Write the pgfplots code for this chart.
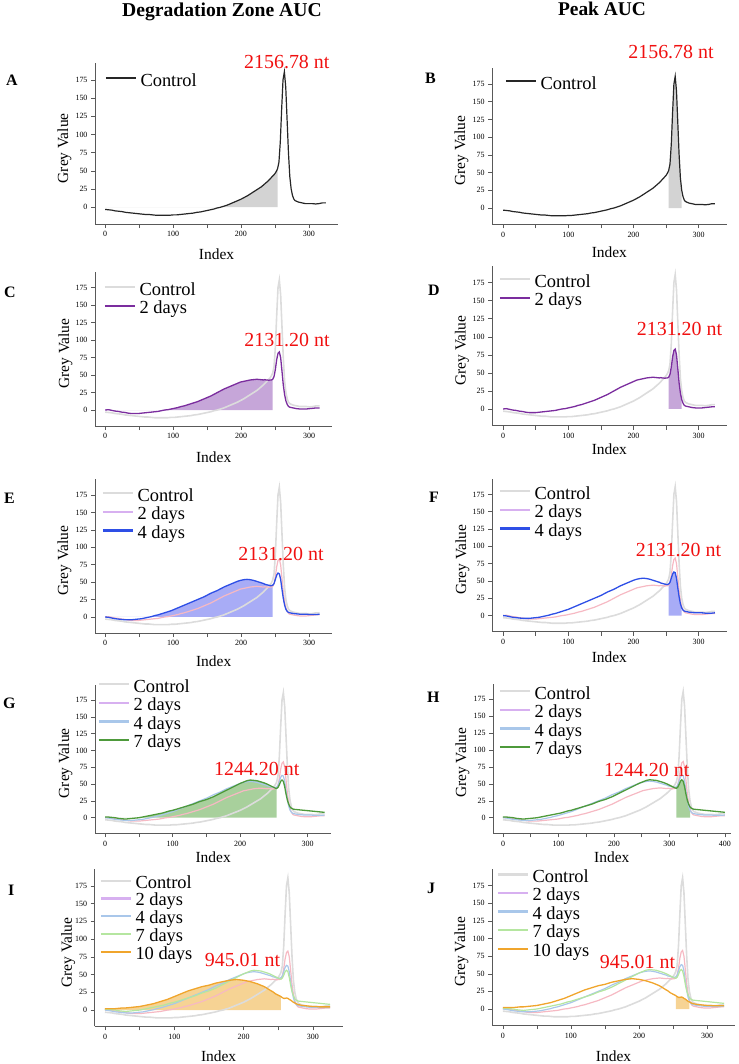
\documentclass[border=0pt]{standalone}
\usepackage{fontspec}
\setmainfont{Liberation Serif}
\usepackage{pgfplots}
\pgfplotsset{compat=1.18}
\usepackage{pgfplotstable}

\definecolor{cpale}{HTML}{DCDCDC}
\definecolor{fillgray}{HTML}{D3D3D3}
\definecolor{purp}{HTML}{7B2D9E}
\definecolor{purpfill}{HTML}{C6A6D9}
\definecolor{lav}{HTML}{D7B0F0}
\definecolor{pinkl}{HTML}{F6B9C3}
\definecolor{blu}{HTML}{2E4FE6}
\definecolor{blufill}{HTML}{A8ACF6}
\definecolor{lblue}{HTML}{A9C7EA}
\definecolor{grn}{HTML}{4E9A3B}
\definecolor{grnfill}{HTML}{A8D09C}
\definecolor{lgrn}{HTML}{B5E6A0}
\definecolor{org}{HTML}{F0A52C}
\definecolor{orgfill}{HTML}{F6D394}
\definecolor{annred}{HTML}{F01010}

\pgfplotstableread{
x    c      d2    d4    d7    d10
0   -3     0     0     1     2
5   -3.5   0.5  -0.5   1     2
10  -4    -0.5  -1.5   0.5   2
15  -5    -1.5  -2.5   0     2
20  -5.5  -2    -3    -1     2.5
25  -6    -3    -3.5  -1.5   3
30  -7    -3.5  -4    -2     3
35  -7.5  -4.5  -4    -1.5   3.5
40  -8    -5    -4    -1     4
45  -8.5  -5    -3.5  -0.5   4.5
50  -9    -5    -3     0     5
55  -9.5  -4.5  -2.5   1     6
60  -10   -4    -1.5   2     7
65  -10   -3.5  -0.5   3     8
70  -10.5 -3     0.5   4     9
75  -11   -2.5   2     5     10.5
80  -11   -2     3     6     12
85  -11   -1     4.5   7     13.5
90  -11    0     6     8.5   15
95  -11    0.5   7.5  10     17
100 -10.5  1.5   9    11     19
105 -10.5  2.5  11    12.5   21
110 -10    3.5  13    14     23
115 -9.5   5    15    15.5   25
120 -9     6    17    17     27
125 -8.5   7.5  19    18.5   28.5
130 -8     9    21    20     30
135 -7    10.5  23    22     31.5
140 -6.5  12    25    24     33
145 -5.5  14    27    25.5   34
150 -4.5  16    29    27     35
155 -3.5  18    31.5  29     36.5
160 -2.5  20    34    31     38
165 -1    22.5  36    33.5   39
170  0    25    38    36     40
175  1.5  27.5  40.5  38.5   41
180  3    30    43    41     42
185  5    32    45    43.5   42.5
190  7    34    47    46     43
195  9    36    49    48.5   42.5
200  11   38    51    51     42
205  13.5 40    52.5  53     41
210  16   41    53.5  55     40
215  19   42    54    56     38.5
220  22   43    53.5  55.5   37
225  25   43.5  52.5  55     35
230  28   44    51    53.5   33
235  32   43.5  49.5  52     30
240  36   43    48    50     27
242  38   43.5  47    49     26
244  40   43    46.5  48     24.5
246  42   43    46    47     23
248  44   42.5  45.5  46     22
250  46   43    45    45     21
252  49   43    45    44     20
254  53   44    45.5  43.5   19
256  62   48    48    45     17.5
258  90   58    54    49     16.5
260  135  72    60    54     16.5
262  175  81    63    56     17
264  186  83    62    54     16.5
266  165  75    54    46     15
268  120  56    40    35     14
270  75   36    27    26     12.5
272  42   22    17    20     11
274  25   13    11    16     10
276  16   8     8     14     9
278  11   5     6.5   13     8
280  9    4     6     12.5   7.5
285  7    3     5     12     6.5
290  6    2     4.5   11.5   6
295  5    1.5   4     11     5.5
300  5    1.5   4     10.5   5
305  5    1.5   4     10     5
310  4.5  2     3.5   9.5    4.5
315  5    2.5   3.5   9      4.5
320  6    3     3.5   8.5    4.5
325  6    3     4     8      4.5
}\data

\pgfplotsset{
  base/.style={scale only axis, anchor=north west, clip=false,
    axis x line*=bottom, axis y line*=left,
    axis line style={black!65, line width=0.6bp},
    tick style={black!65, line width=0.5bp},
    tick align=outside, major tick length=4bp,
    ymin=-23, ymax=198, ytick={0,25,...,175},
    xtick={0,50,...,300}, xticklabels={0,,100,,200,,300},
    tick label style={font=\fontsize{8}{9}\selectfont},
    /pgf/number format/assume math mode=true,
    xlabel={Index}, ylabel={Grey Value},
    label style={font=\fontsize{15.5}{16}\selectfont},
    x label style={at={(axis description cs:0.5,0)}, anchor=center},
    y label style={at={(axis description cs:0,0.47)}, anchor=center},
    legend cell align=left,
    legend style={at={(axis description cs:0,1)}, anchor=north west, draw=none, fill=none,
      inner sep=0pt, font=\fontsize{18.5}{24.5}\selectfont, row sep=0pt,
      nodes={inner xsep=3.5bp, inner ysep=0pt}},
    legend image code/.code={\draw[##1, line width=2.3bp] (0bp,0bp) -- (30bp,0bp);},
  },
}
\newcommand\curve[2]{\addplot[#1] table[x expr=\thisrow{x}*\xs, y=#2] {\data};}
\newcommand\zonefill[3]{\addplot[draw=none, fill=#1, restrict x to domain=0:#3] table[x expr=\thisrow{x}*\xs, y expr={max(\thisrow{#2},0)}] {\data} \closedcycle;}
\newcommand\peakfill[4]{\addplot[draw=none, fill=#1, restrict x to domain=#3:#4] table[x expr=\thisrow{x}*\xs, y=#2] {\data} \closedcycle;}

\begin{document}
\begin{tikzpicture}
\useasboundingbox (0,0) rectangle (739bp,-1064bp);
% ---------- A
\def\xs{1}
\begin{axis}[base, at={(95bp,-63bp)}, width=243bp, height=161bp, xmin=-15, xmax=343,
  x label style={yshift=-30.5bp}, y label style={yshift=30.5bp},
  legend style={xshift=9.5bp, yshift=-5.85bp}]
\addlegendimage{black!85}\addlegendentry{\strut Control}
\zonefill{fillgray}{c}{254.5}
\curve{black!85, line width=1.2bp}{c}
\end{axis}
% ---------- B
\def\xs{1}
\begin{axis}[base, at={(492bp,-67.7bp)}, width=234.7bp, height=156.6bp, xmin=-17, xmax=343,
  x label style={yshift=-28bp}, y label style={yshift=30.5bp},
  legend style={xshift=12.5bp, yshift=-4.15bp}]
\addlegendimage{black!85}\addlegendentry{\strut Control}
\peakfill{fillgray}{c}{253}{274.5}
\curve{black!85, line width=1.2bp}{c}
\end{axis}
% ---------- C
\def\xs{0.97}
\begin{axis}[base, at={(95bp,-271.6bp)}, width=237.3bp, height=154.5bp, xmin=-15, xmax=334,
  x label style={yshift=-31bp}, y label style={yshift=29.5bp},
  legend style={xshift=8.5bp, yshift=-6.25bp}]
\addlegendimage{cpale}\addlegendentry{\strut Control}
\addlegendimage{purp}\addlegendentry{\strut 2 days}
\zonefill{purpfill}{d2}{247}
\curve{cpale, line width=1.6bp}{c}
\curve{purp, line width=1.3bp}{d2}
\end{axis}
% ---------- D
\def\xs{1}
\begin{axis}[base, at={(492bp,-266bp)}, width=234.7bp, height=159.6bp, xmin=-17, xmax=343,
  x label style={yshift=-24bp}, y label style={yshift=30bp},
  legend style={xshift=6.5bp, yshift=-3.85bp}]
\addlegendimage{cpale}\addlegendentry{\strut Control}
\addlegendimage{purp}\addlegendentry{\strut 2 days}
\peakfill{purpfill}{d2}{253}{274.5}
\curve{cpale, line width=1.6bp}{c}
\curve{purp, line width=1.3bp}{d2}
\end{axis}
% ---------- E
\def\xs{0.97}
\begin{axis}[base, at={(95bp,-479bp)}, width=237.3bp, height=154bp, xmin=-15, xmax=334,
  x label style={yshift=-28bp}, y label style={yshift=30.5bp},
  legend style={xshift=6.5bp, yshift=-4.85bp}]
\addlegendimage{cpale}\addlegendentry{\strut Control}
\addlegendimage{lav}\addlegendentry{\strut 2 days}
\addlegendimage{blu}\addlegendentry{\strut 4 days}
\zonefill{blufill}{d4}{247}
\curve{cpale, line width=1.6bp}{c}
\curve{pinkl, line width=1.2bp}{d2}
\curve{blu, line width=1.3bp}{d4}
\end{axis}
% ---------- F
\def\xs{1}
\begin{axis}[base, at={(492bp,-478.5bp)}, width=234.7bp, height=153bp, xmin=-17, xmax=343,
  x label style={yshift=-26bp}, y label style={yshift=29.5bp},
  legend style={xshift=6.5bp, yshift=-3.35bp}]
\addlegendimage{cpale}\addlegendentry{\strut Control}
\addlegendimage{lav}\addlegendentry{\strut 2 days}
\addlegendimage{blu}\addlegendentry{\strut 4 days}
\peakfill{blufill}{d4}{253}{274.5}
\curve{cpale, line width=1.6bp}{c}
\curve{pinkl, line width=1.2bp}{d2}
\curve{blu, line width=1.3bp}{d4}
\end{axis}
% ---------- G
\def\xs{1}
\begin{axis}[base, at={(95bp,-684.5bp)}, width=236.3bp, height=148.7bp, xmin=-15, xmax=335,
  x label style={yshift=-24bp}, y label style={yshift=29.5bp},
  legend style={xshift=2.5bp, yshift=9.65bp}]
\addlegendimage{cpale}\addlegendentry{\strut Control}
\addlegendimage{lav}\addlegendentry{\strut 2 days}
\addlegendimage{lblue}\addlegendentry{\strut 4 days}
\addlegendimage{grn}\addlegendentry{\strut 7 days}
\zonefill{grnfill}{d7}{254.5}
\curve{cpale, line width=1.6bp}{c}
\curve{pinkl, line width=1.2bp}{d2}
\curve{lblue, line width=1.2bp}{d4}
\curve{grn, line width=1.3bp}{d7}
\end{axis}
% ---------- H
\def\xs{1.23}
\begin{axis}[base, at={(493bp,-683.5bp)}, width=237.5bp, height=149.8bp, xmin=-18, xmax=410,
  xtick={0,50,...,400}, xticklabels={0,,100,,200,,300,,400},
  x label style={yshift=-24bp}, y label style={yshift=30.5bp},
  legend style={xshift=5.5bp, yshift=1.65bp}]
\addlegendimage{cpale}\addlegendentry{\strut Control}
\addlegendimage{lav}\addlegendentry{\strut 2 days}
\addlegendimage{lblue}\addlegendentry{\strut 4 days}
\addlegendimage{grn}\addlegendentry{\strut 7 days}
\peakfill{grnfill}{d7}{311}{338}
\curve{cpale, line width=1.6bp}{c}
\curve{pinkl, line width=1.2bp}{d2}
\curve{lblue, line width=1.2bp}{d4}
\curve{grn, line width=1.3bp}{d7}
\end{axis}
% ---------- I
\def\xs{1}
\begin{axis}[base, at={(94.6bp,-869.4bp)}, width=248bp, height=157bp, xmin=-15, xmax=343,
  x label style={yshift=-30bp}, y label style={yshift=26.3bp},
  legend style={xshift=4.9bp, yshift=-2.3bp, font=\fontsize{18.5}{23.3}\selectfont}]
\addlegendimage{cpale}\addlegendentry{\strut Control}
\addlegendimage{lav}\addlegendentry{\strut 2 days}
\addlegendimage{lblue}\addlegendentry{\strut 4 days}
\addlegendimage{lgrn}\addlegendentry{\strut 7 days}
\addlegendimage{org}\addlegendentry{\strut 10 days}
\zonefill{orgfill}{d10}{254.5}
\curve{cpale, line width=1.6bp}{c}
\curve{pinkl, line width=1.2bp}{d2}
\curve{lblue, line width=1.2bp}{d4}
\curve{lgrn, line width=1.2bp}{d7}
\curve{org, line width=1.3bp}{d10}
\end{axis}
% ---------- J
\def\xs{1}
\begin{axis}[base, at={(492bp,-869.4bp)}, width=243bp, height=155.8bp, xmin=-16, xmax=341,
  x label style={yshift=-31bp}, y label style={yshift=30.5bp},
  legend style={xshift=4.5bp, yshift=4.55bp}]
\addlegendimage{cpale}\addlegendentry{\strut Control}
\addlegendimage{lav}\addlegendentry{\strut 2 days}
\addlegendimage{lblue}\addlegendentry{\strut 4 days}
\addlegendimage{lgrn}\addlegendentry{\strut 7 days}
\addlegendimage{org}\addlegendentry{\strut 10 days}
\peakfill{orgfill}{d10}{253}{274.5}
\curve{cpale, line width=1.6bp}{c}
\curve{pinkl, line width=1.2bp}{d2}
\curve{lblue, line width=1.2bp}{d4}
\curve{lgrn, line width=1.2bp}{d7}
\curve{org, line width=1.3bp}{d10}
\end{axis}
% ---------- titles, letters, annotations
\node[anchor=base, font=\bfseries\fontsize{19.7}{20}\selectfont] at (222bp,-16bp) {Degradation Zone AUC};
\node[anchor=base, font=\bfseries\fontsize{19.5}{20}\selectfont] at (602bp,-15bp) {Peak AUC};
\begin{scope}[every node/.style={anchor=base west, inner sep=0pt, font=\bfseries\fontsize{16}{16}\selectfont}]
\node at (6bp,-85bp) {A};
\node at (425bp,-83bp) {B};
\node at (4bp,-297bp) {C};
\node at (428bp,-295bp) {D};
\node at (4bp,-503bp) {E};
\node at (429bp,-502bp) {F};
\node at (3bp,-708bp) {G};
\node at (427bp,-702bp) {H};
\node at (8bp,-895bp) {I};
\node at (427bp,-893bp) {J};
\end{scope}
\begin{scope}[every node/.style={anchor=base, inner sep=0pt, text=annred, font=\fontsize{20}{20}\selectfont}]
\node at (286.8bp,-68.3bp) {2156.78 nt};
\node at (671bp,-58.3bp) {2156.78 nt};
\node at (287bp,-346bp) {2131.20 nt};
\node at (679.5bp,-335bp) {2131.20 nt};
\node at (281bp,-560bp) {2131.20 nt};
\node at (678.5bp,-556.7bp) {2131.20 nt};
\node at (256.7bp,-775.7bp) {1244.20 nt};
\node at (646.7bp,-776.7bp) {1244.20 nt};
\node at (242.5bp,-966.7bp) {945.01 nt};
\node at (637.5bp,-968.3bp) {945.01 nt};
\end{scope}
\end{tikzpicture}
\end{document}
